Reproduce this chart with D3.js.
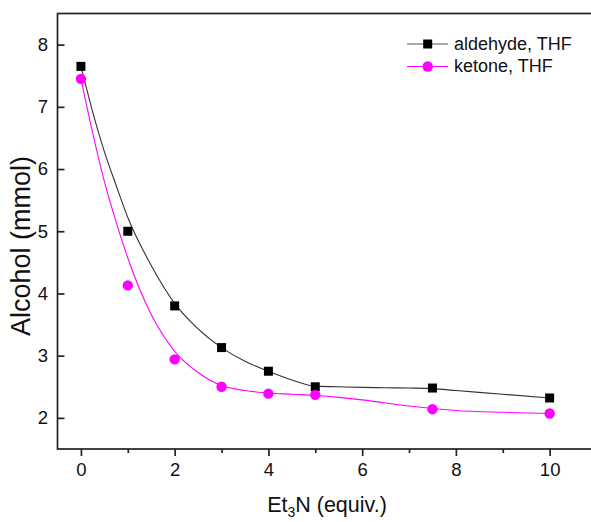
<!DOCTYPE html>
<html>
<head>
<meta charset="utf-8">
<script src="https://cdn.jsdelivr.net/npm/d3@7"></script>
<style>
  html, body { margin: 0; padding: 0; background: #fff; }
  svg { display: block; font-family: "Liberation Sans", Arial, sans-serif; }
</style>
</head>
<body>
<svg id="chart" width="591" height="522"></svg>
<script>
// Measured points
const equiv = [0, 1, 2, 3, 4, 5, 7.5, 10];
const aldehyde = [7.65, 5.00, 3.80, 3.13, 2.75, 2.50, 2.48, 2.32];
const ketone = [7.45, 4.13, 2.94, 2.50, 2.39, 2.37, 2.14, 2.07];

// Fitted curves, sampled along x
const fitX = [0, 0.25, 0.5, 0.75, 1, 1.5, 2, 2.5, 3, 3.5, 4, 4.5, 5, 5.5, 6, 6.5, 7, 7.5, 8, 9, 10];
const aldehydeFit = [7.65, 6.92, 6.28, 5.74, 5.22, 4.45, 3.84, 3.43, 3.13, 2.91, 2.75, 2.61, 2.51, 2.50, 2.49, 2.485, 2.48, 2.47, 2.44, 2.38, 2.32];
const ketoneFit = [7.45, 6.58, 5.80, 5.15, 4.57, 3.66, 3.07, 2.73, 2.52, 2.44, 2.40, 2.38, 2.36, 2.33, 2.29, 2.24, 2.19, 2.15, 2.12, 2.09, 2.07];

const xTicks = [0, 2, 4, 6, 8, 10];
const xMinorTicks = [1, 3, 5, 7, 9];
const yTicks = [2, 3, 4, 5, 6, 7, 8];

const seriesNames = ["aldehyde, THF", "ketone, THF"];

const svg = d3.select("#chart");
const plotLeft = 57.5, plotRight = 596.5, plotTop = 13.5, plotBottom = 449;

const x = d3.scaleLinear().domain([-0.5, 11]).range([plotLeft, plotRight]);
const y = d3.scaleLinear().domain([1.5, 8.5]).range([plotBottom, plotTop]);

// Frame
svg.append("rect")
  .attr("x", plotLeft).attr("y", plotTop)
  .attr("width", plotRight - plotLeft).attr("height", plotBottom - plotTop)
  .attr("fill", "none").attr("stroke", "#222").attr("stroke-width", 1.7);

// X axis (ticks outward)
const xAxis = svg.append("g").attr("transform", `translate(0,${plotBottom})`)
  .call(d3.axisBottom(x).tickValues(xTicks).tickSize(7).tickPadding(7).tickFormat(d3.format("d")));
const xMinor = svg.append("g").attr("transform", `translate(0,${plotBottom})`)
  .call(d3.axisBottom(x).tickValues(xMinorTicks).tickSize(4).tickFormat(""));

// Y axis (ticks inward)
const yAxis = svg.append("g").attr("transform", `translate(${plotLeft},0)`)
  .call(d3.axisLeft(y).tickValues(yTicks).tickSize(-7).tickPadding(9.5).tickFormat(d3.format("d")));

[xAxis, xMinor, yAxis].forEach(g => {
  g.select(".domain").remove();
  g.selectAll(".tick line").attr("stroke", "#222").attr("stroke-width", 1.7);
  g.selectAll(".tick text").attr("fill", "#111").style("font-size", "18.5px")
    .style("font-family", "'Liberation Sans', Arial, sans-serif");
});

// Axis titles
const xTitle = svg.append("text")
  .attr("x", (plotLeft + plotRight) / 2).attr("y", 512)
  .attr("text-anchor", "middle")
  .style("font-size", "21.5px").attr("fill", "#111");
xTitle.append("tspan").text("Et");
xTitle.append("tspan").attr("dy", 5).style("font-size", "14px").text("3");
xTitle.append("tspan").attr("dy", -5).text("N (equiv.)");

svg.append("text")
  .attr("transform", `translate(30,246) rotate(-90)`)
  .attr("text-anchor", "middle")
  .style("font-size", "27px").attr("fill", "#111")
  .text("Alcohol (mmol)");

// Fitted curves
const line = d3.line()
  .x(d => x(d[0])).y(d => y(d[1]))
  .curve(d3.curveMonotoneX);

svg.append("path")
  .datum(fitX.map((v, i) => [v, aldehydeFit[i]]))
  .attr("d", line).attr("fill", "none")
  .attr("stroke", "#333").attr("stroke-width", 1.1);

svg.append("path")
  .datum(fitX.map((v, i) => [v, ketoneFit[i]]))
  .attr("d", line).attr("fill", "none")
  .attr("stroke", "#ff00ff").attr("stroke-width", 1.1);

// Markers
const sq = 9;
svg.append("g").selectAll("rect")
  .data(equiv.map((v, i) => [v, aldehyde[i]]))
  .join("rect")
  .attr("x", d => x(d[0]) - sq / 2).attr("y", d => y(d[1]) - sq / 2)
  .attr("width", sq).attr("height", sq).attr("fill", "#000");

svg.append("g").selectAll("circle")
  .data(equiv.map((v, i) => [v, ketone[i]]))
  .join("circle")
  .attr("cx", d => x(d[0])).attr("cy", d => y(d[1]))
  .attr("r", 5.2).attr("fill", "#ff00ff");

// Legend
const legend = svg.append("g");
const legendRows = [
  { name: seriesNames[0], color: "#555", marker: "square", cy: 44 },
  { name: seriesNames[1], color: "#ff00ff", marker: "circle", cy: 66.5 }
];
legendRows.forEach(r => {
  legend.append("line")
    .attr("x1", 407).attr("x2", 448).attr("y1", r.cy).attr("y2", r.cy)
    .attr("stroke", r.color).attr("stroke-width", 1.1);
  if (r.marker === "square") {
    legend.append("rect").attr("x", 427.7 - sq / 2).attr("y", r.cy - sq / 2)
      .attr("width", sq).attr("height", sq).attr("fill", "#000");
  } else {
    legend.append("circle").attr("cx", 427.7).attr("cy", r.cy).attr("r", 5.2).attr("fill", "#ff00ff");
  }
  legend.append("text").attr("x", 454).attr("y", r.cy + 5.8)
    .style("font-size", "18px").attr("fill", "#111").text(r.name);
});
</script>
</body>
</html>
